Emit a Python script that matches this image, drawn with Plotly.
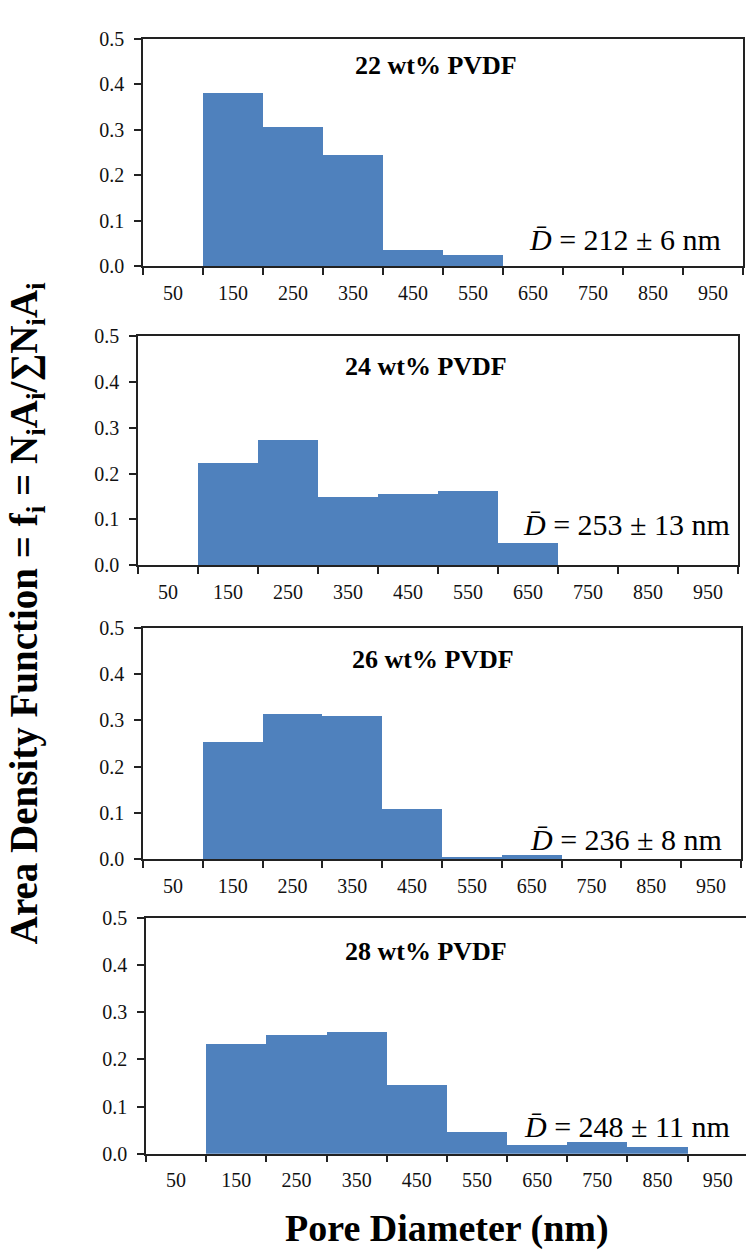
import plotly.graph_objects as go

W, H = 746, 1259

# ---- data ----
bin_centers = [50, 150, 250, 350, 450, 550, 650, 750, 850, 950]
tick_labels = ["50", "150", "250", "350", "450", "550", "650", "750", "850", "950"]
bin_edges = [0, 100, 200, 300, 400, 500, 600, 700, 800, 900, 1000]
panel_titles = ["22 wt% PVDF", "24 wt% PVDF", "26 wt% PVDF", "28 wt% PVDF"]
f_22 = [0, 0.382, 0.307, 0.246, 0.037, 0.027, 0, 0, 0, 0]
f_24 = [0, 0.223, 0.273, 0.148, 0.155, 0.162, 0.048, 0, 0, 0]
f_26 = [0, 0.253, 0.313, 0.310, 0.108, 0.004, 0.008, 0, 0, 0]
f_28 = [0, 0.232, 0.252, 0.259, 0.145, 0.047, 0.018, 0.026, 0.015, 0]
mean_diam = ["212 ± 6", "253 ± 13", "236 ± 8", "248 ± 11"]
y_ticks = [0, 0.1, 0.2, 0.3, 0.4, 0.5]

series = [f_22, f_24, f_26, f_28]

# ---- layout geometry (pixels) ----
boxes = [  # left, right, top, bottom, xmax
    (143, 743, 28, 260, 1000),
    (138, 738, 331, 564, 1000),
    (143, 741, 628, 863, 1000),
    (146, 746, 923, 1163, 997),
]
title_pos = [(436, 55), (426, 362), (433, 660), (426, 957)]
dtext_pos = [(723, 233), (732, 523), (724, 843), (732, 1135)]

FONT = "Liberation Serif, Times New Roman, serif"
LINE = "#222222"
BAR = "#4F81BD"

def px(x):
    return x / W

def py(y):
    return 1 - y / H

fig = go.Figure()
layout = dict(
    width=W, height=H, margin=dict(l=0, r=0, t=0, b=0),
    paper_bgcolor="white", plot_bgcolor="white", showlegend=False,
    bargap=0, font=dict(family=FONT, color="black"),
)
annotations = []

for i, (vals, box) in enumerate(zip(series, boxes)):
    l, r, t, b, xmax = box
    n = "" if i == 0 else str(i + 1)
    fig.add_trace(go.Bar(
        x=bin_centers, y=vals, width=100,
        marker=dict(color=BAR, line=dict(width=0)),
        xaxis="x" + n, yaxis="y" + n, hoverinfo="x+y",
    ))
    layout["xaxis" + n] = dict(
        domain=[px(l), px(r)], range=[0, xmax], anchor="y" + n,
        tickmode="array", tickvals=bin_centers, ticktext=tick_labels,
        ticks="outside", ticklen=8, tickcolor="rgba(0,0,0,0)",
        tickfont=dict(family=FONT, size=20, color="#111"),
        showline=True, linecolor=LINE, linewidth=1.5, mirror=True,
        showgrid=False, zeroline=False,
        minor=dict(ticks="outside", ticklen=7, tickcolor=LINE, tickwidth=1.5,
                   tickmode="array", tickvals=bin_edges, showgrid=False),
    )
    layout["yaxis" + n] = dict(
        domain=[py(b), py(t)], range=[0, 0.5], anchor="x" + n,
        tickmode="array", tickvals=y_ticks, tickformat=".1f",
        ticks="outside", ticklen=7, tickcolor=LINE, tickwidth=1.5,
        tickfont=dict(family=FONT, size=20, color="#111"),
        showline=True, linecolor=LINE, linewidth=1.5, mirror=(i != 3),
        showgrid=False, zeroline=False, ticklabelstandoff=6,
    )
    tx, ty = title_pos[i]
    annotations.append(dict(
        x=px(tx), y=py(ty), xref="paper", yref="paper", showarrow=False,
        xanchor="center", yanchor="middle",
        text="<b>" + panel_titles[i] + "</b>",
        font=dict(family=FONT, size=26, color="black"),
    ))
    dx, dy = dtext_pos[i]
    annotations.append(dict(
        x=px(dx), y=py(dy), xref="paper", yref="paper", showarrow=False,
        xanchor="right", yanchor="middle",
        text="<i>D\u0304</i> = " + mean_diam[i] + " nm",
        font=dict(family=FONT, size=30, color="black"),
    ))

annotations.append(dict(
    x=px(447), y=py(1239), xref="paper", yref="paper", showarrow=False,
    xanchor="center", yanchor="middle",
    text="<b>Pore Diameter (nm)</b>",
    font=dict(family=FONT, size=38, color="black"),
))
annotations.append(dict(
    x=px(26), y=py(613), xref="paper", yref="paper", showarrow=False,
    xanchor="center", yanchor="middle", textangle=-90,
    text="<b>Area Density Function = f<sub>i</sub> = N<sub>i</sub>A<sub>i</sub>/\u2211N<sub>i</sub>A<sub>i</sub></b>",
    font=dict(family=FONT, size=39, color="black"),
))
layout["annotations"] = annotations
fig.update_layout(**layout)
fig.write_html("out.html")
